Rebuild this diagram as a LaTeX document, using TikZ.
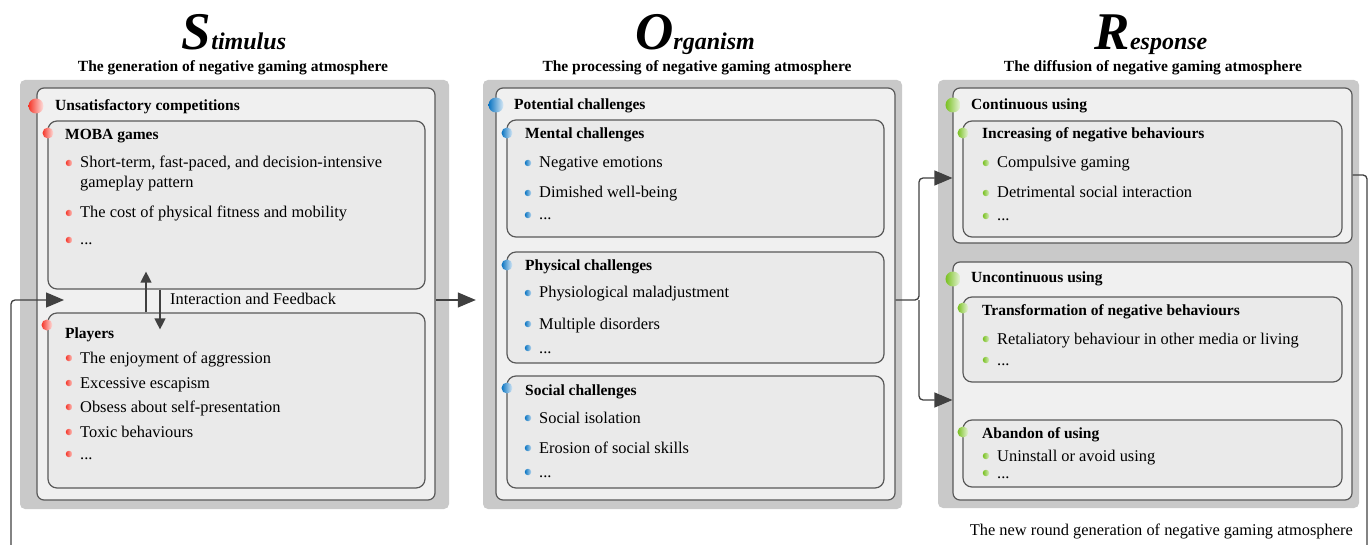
\documentclass[tikz,border=0pt]{standalone}
\usepackage{fontspec}
\setmainfont{Liberation Serif}
\usetikzlibrary{arrows.meta,fit}

\definecolor{panelgray}{HTML}{C9C9C9}
\definecolor{boxfill}{HTML}{F0F0F0}
\definecolor{subfill}{HTML}{EAEAEA}
\definecolor{edgegray}{HTML}{595959}
\definecolor{arrowgray}{HTML}{404040}
\definecolor{sred}{HTML}{F5372A}
\definecolor{oblue}{HTML}{0A74C2}
\definecolor{rgreen}{HTML}{78C020}

\newcommand{\bigini}[1]{{\fontsize{53}{53}\selectfont #1}}
\newcommand{\etc}{...}

\tikzset{
  panel/.style={fill=panelgray, rounded corners=5pt, inner sep=0pt},
  outerbox/.style={draw=edgegray, line width=1.2pt, fill=boxfill, rounded corners=7pt, inner sep=0pt},
  innerbox/.style={draw=edgegray, line width=1.2pt, fill=subfill, rounded corners=9pt, inner sep=0pt},
  bigdot/.style={circle, inner sep=0pt, minimum size=15pt, left color=#1, right color=#1!15},
  middot/.style={circle, inner sep=0pt, minimum size=11pt, left color=#1, right color=#1!15},
  dot/.style={circle, inner sep=0pt, minimum size=6.5pt, left color=#1, right color=#1!30},
  title/.style={anchor=base, inner sep=0pt, font=\fontsize{24}{24}\selectfont\bfseries\itshape},
  subtitle/.style={anchor=base, inner sep=0pt, font=\fontsize{15.5}{18}\selectfont\bfseries},
  head/.style={anchor=base west, inner sep=0pt, font=\fontsize{15.5}{18}\selectfont\bfseries},
  item/.style={anchor=base west, inner sep=0pt, font=\fontsize{16.4}{19}\selectfont},
  flow/.style={draw=arrowgray, line width=1.3pt},
  bigtip/.style={-{Triangle[length=18pt,width=15pt]}},
  smalltip/.style={-{Triangle[length=11pt,width=11pt]}},
}

\begin{document}
\begin{tikzpicture}[x=1pt,y=-1pt]
\useasboundingbox (0,0) rectangle (1370,545);

% titles
\node[title] (stimtitle) at (234,50) {\bigini{S}timulus};
\node[title] (orgtitle) at (695,50) {\bigini{O}rganism};
\node[title] (resptitle) at (1151,50) {\bigini{R}esponse};
\node[subtitle] (stimsub) at (233,72) {The generation of negative gaming atmosphere};
\node[subtitle] (orgsub) at (697,72) {The processing of negative gaming atmosphere};
\node[subtitle] (respsub) at (1153,72) {The diffusion of negative gaming atmosphere};

% panels
\node[panel, fit={(20,80) (449,509)}] (stimpanel) {};
\node[panel, fit={(483,80) (902,509)}] (orgpanel) {};
\node[panel, fit={(938,80) (1359,508)}] (resppanel) {};

% stimulus
\node[outerbox, fit={(37,88) (435,500)}] (stimbox) {};
\node[innerbox, fit={(48,121) (425,289)}] (mobabox) {};
\node[innerbox, fit={(48,313) (425,488)}] (playersbox) {};
\node[bigdot=sred] (stimdot) at (36,106) {};
\node[head] (unsat) at (55,111) {Unsatisfactory competitions};
\node[middot=sred] (mobadot) at (48,133) {};
\node[head] (moba) at (65,140) {MOBA games};
\foreach \y/\t [count=\i] in {163/{Short-term, fast-paced, and decision-intensive}, 213/The cost of physical fitness and mobility, 240/\etc}{
  \node[dot=sred] (md\i) at (69,\y) {};
  \node[item] (mi\i) at (80,\y+5) {\t};
}
\node[item] (mi1b) at (80,188) {gameplay pattern};
\node[middot=sred] (playersdot) at (47,325) {};
\node[head] (players) at (65,338) {Players};
\foreach \y/\t [count=\i] in {358/The enjoyment of aggression, 383/Excessive escapism, 407/Obsess about self-presentation, 432/Toxic behaviours, 454/\etc}{
  \node[dot=sred] (pd\i) at (69,\y) {};
  \node[item] (pi\i) at (80,\y+5) {\t};
}

% organism
\node[outerbox, fit={(496,88) (895,500)}] (orgbox) {};
\node[innerbox, fit={(507,120) (884,237)}] (mentalbox) {};
\node[innerbox, fit={(507,252) (884,363)}] (physbox) {};
\node[innerbox, fit={(507,376) (884,488)}] (socialbox) {};
\node[bigdot=oblue] (orgdot) at (496,105) {};
\node[head] (potential) at (514,110) {Potential challenges};
\node[middot=oblue] (mentaldot) at (507,133) {};
\node[head] (mental) at (525,139) {Mental challenges};
\foreach \y/\t [count=\i] in {163/Negative emotions, 193/Dimished well-being, 215/\etc}{
  \node[dot=oblue] (nd\i) at (528,\y) {};
  \node[item] (ni\i) at (539,\y+5) {\t};
}
\node[middot=oblue] (physdot) at (507,265) {};
\node[head] (phys) at (525,271) {Physical challenges};
\foreach \y/\t [count=\i] in {293/Physiological maladjustment, 324/Multiple disorders, 348/\etc}{
  \node[dot=oblue] (hd\i) at (528,\y) {};
  \node[item] (hi\i) at (539,\y+5) {\t};
}
\node[middot=oblue] (socialdot) at (507,388) {};
\node[head] (social) at (525,395) {Social challenges};
\foreach \y/\t [count=\i] in {418/Social isolation, 448/Erosion of social skills, 472/\etc}{
  \node[dot=oblue] (sd\i) at (528,\y) {};
  \node[item] (si\i) at (539,\y+5) {\t};
}

% response
\node[outerbox, fit={(953,88) (1352,243)}] (contbox) {};
\node[innerbox, fit={(963,121) (1342,237)}] (incbox) {};
\node[outerbox, fit={(953,262) (1352,500)}] (uncbox) {};
\node[innerbox, fit={(963,297) (1342,382)}] (transbox) {};
\node[innerbox, fit={(963,420) (1342,487)}] (abandbox) {};
\node[bigdot=rgreen] (contdot) at (953,105) {};
\node[head] (cont) at (971,110) {Continuous using};
\node[middot=rgreen] (incdot) at (963,133) {};
\node[head] (inc) at (982,139) {Increasing of negative behaviours};
\foreach \y/\t [count=\i] in {163/Compulsive gaming, 193/Detrimental social interaction, 216/\etc}{
  \node[dot=rgreen] (cd\i) at (986,\y) {};
  \node[item] (ci\i) at (997,\y+5) {\t};
}
\node[bigdot=rgreen] (uncdot) at (953,279) {};
\node[head] (unc) at (971,283) {Uncontinuous using};
\node[middot=rgreen] (transdot) at (963,308) {};
\node[head] (trans) at (982,315) {Transformation of negative behaviours};
\foreach \y/\t [count=\i] in {339/Retaliatory behaviour in other media or living, 360/\etc}{
  \node[dot=rgreen] (td\i) at (986,\y) {};
  \node[item] (ti\i) at (997,\y+5) {\t};
}
\node[middot=rgreen] (abanddot) at (963,432) {};
\node[head] (aband) at (982,438) {Abandon of using};
\foreach \y/\t [count=\i] in {456/Uninstall or avoid using, 473/\etc}{
  \node[dot=rgreen] (ad\i) at (986,\y) {};
  \node[item] (ai\i) at (997,\y+5) {\t};
}
\node[item, anchor=base east] (newround) at (1353,535) {The new round generation of negative gaming atmosphere};

% connectors
\coordinate (midy) at (0,300);
\coordinate (upy) at (0,178);
\coordinate (lowy) at (0,400);
\coordinate (loopy) at (0,175);
\coordinate (split) at (919,300);
\coordinate (loopR) at (1367,549);
\coordinate (loopL) at (11,549);
\coordinate (feedin) at (64,300);
\coordinate (ia) at (146,0);
\coordinate (ib) at (160,0);

\draw[flow,bigtip] (stimbox.east |- midy) -- ([xshift=-7pt]orgpanel.west |- midy);
\draw[flow,bigtip,rounded corners=4pt] (orgbox.east |- midy) -- (split) |- (contbox.west |- upy);
\draw[flow,bigtip,rounded corners=4pt] (split) |- (uncbox.west |- lowy);
\draw[flow,bigtip,rounded corners=4pt] (contbox.east |- loopy) -| (loopR) -- (loopL) |- (feedin);

\draw[flow,smalltip] (playersbox.north -| ia) -- ([yshift=18pt]mobabox.south -| ia);
\draw[flow,smalltip] (mobabox.south -| ib) -- ([yshift=-17pt]playersbox.north -| ib);
\node[item] (interact) at (170,305) {Interaction and Feedback};
\end{tikzpicture}
\end{document}
